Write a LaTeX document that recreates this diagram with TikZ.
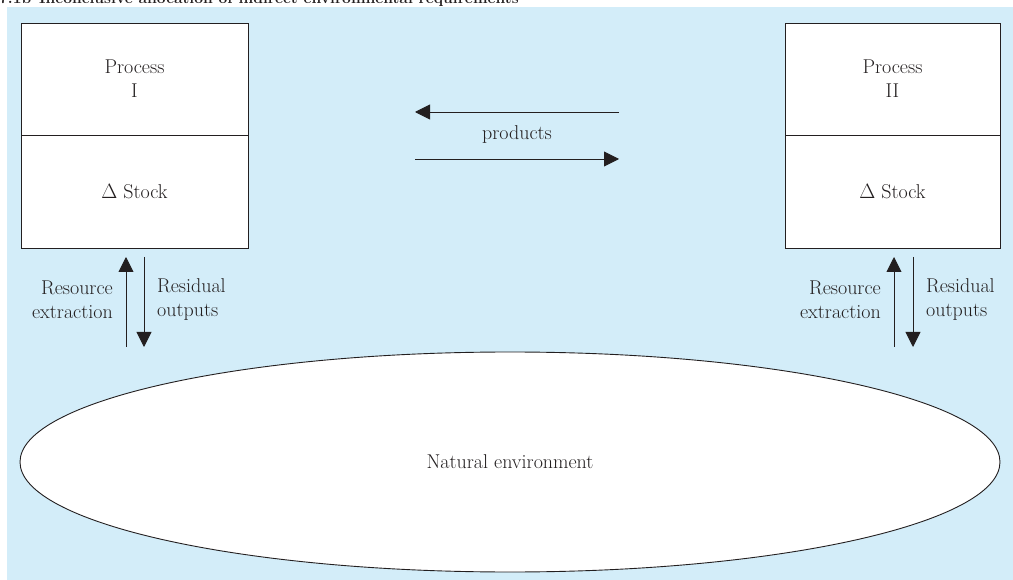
\documentclass[tikz,border=0pt]{standalone}
\usetikzlibrary{arrows.meta,shapes.geometric}
\definecolor{bgblue}{RGB}{211,237,249}
\definecolor{ink}{RGB}{35,31,32}
\begin{document}
\begin{tikzpicture}[x=1pt,y=-1pt,
  txt/.style={font=\fontsize{20}{24}\selectfont, text=ink},
  box/.style={draw=ink, line width=0.9pt, fill=white, inner sep=0pt, txt, align=center},
  flow/.style={draw=ink, line width=0.9pt, -{Triangle[length=15pt,width=15pt]}},
]
\useasboundingbox (0,0) rectangle (1013,580);
\clip (0,0) rectangle (1013,580);
\fill[bgblue] (7,7) rectangle (1013,580);
\node[anchor=base west, font=\fontsize{15.6}{18}\selectfont\bfseries, text=ink, inner sep=0pt] (title) at (-1,4) {7.1b\enspace Inconclusive allocation of indirect environmental requirements};

% left process
\node[box, minimum width=227pt, minimum height=112pt] (p1) at (134.5,79) {Process\\I};
\node[box, minimum width=227pt, minimum height=113pt] (s1) at (134.5,191.5) {$\Delta$ Stock};
% right process
\node[box, minimum width=215pt, minimum height=112pt] (p2) at (892.5,79) {Process\\II};
\node[box, minimum width=215pt, minimum height=113pt] (s2) at (892.5,191.5) {$\Delta$ Stock};

% environment
\node[ellipse, draw=ink, line width=0.9pt, fill=white, inner sep=0pt, minimum width=980pt, minimum height=220pt, txt] (env) at (510,462) {Natural environment};

% products
\coordinate (pa1) at (619,112);
\coordinate (pa2) at (415,112);
\coordinate (pb1) at (415,159);
\coordinate (pb2) at (619,159);
\draw[flow] (pa1) -- (pa2);
\draw[flow] (pb1) -- (pb2);
\node[txt] (prod) at (517,135) {products};

% left flows
\coordinate (lu1) at (126,347);
\coordinate (lu2) at (126,257);
\coordinate (ld1) at (144,257);
\coordinate (ld2) at (144,347);
\draw[flow] (lu1) -- (lu2);
\draw[flow] (ld1) -- (ld2);
\node[txt, anchor=east, align=right, inner sep=0pt] (lres) at (113,300) {Resource\\extraction};
\node[txt, anchor=west, align=left, inner sep=0pt] (lout) at (157,300) {Residual\\outputs};

% right flows
\coordinate (ru1) at (894,347);
\coordinate (ru2) at (894,257);
\coordinate (rd1) at (913,257);
\coordinate (rd2) at (913,347);
\draw[flow] (ru1) -- (ru2);
\draw[flow] (rd1) -- (rd2);
\node[txt, anchor=east, align=right, inner sep=0pt] (rres) at (881,300) {Resource\\extraction};
\node[txt, anchor=west, align=left, inner sep=0pt] (rout) at (926,300) {Residual\\outputs};
\end{tikzpicture}
\end{document}
